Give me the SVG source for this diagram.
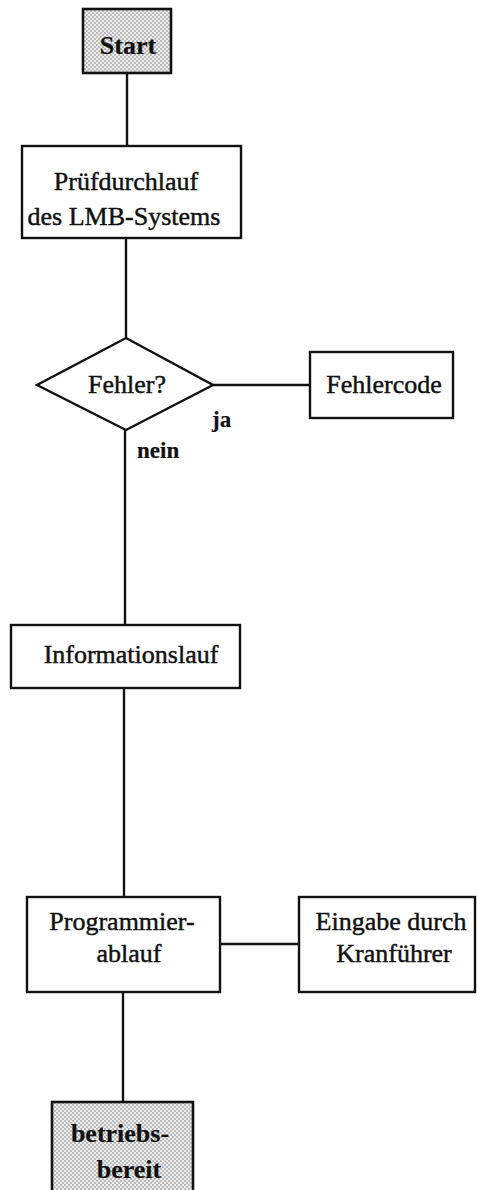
<svg xmlns="http://www.w3.org/2000/svg" width="477" height="1190" viewBox="0 0 477 1190">
  <defs>
    <!-- fine dot screen used for the start/end terminals -->
    <pattern id="dots" width="4" height="4" patternUnits="userSpaceOnUse">
      <rect width="4" height="4" fill="#ececec"/>
      <circle cx="1" cy="1" r="0.7" fill="#666"/>
      <circle cx="3" cy="3" r="0.7" fill="#666"/>
    </pattern>
    <style>
      .box { fill: #fff; stroke: #111; stroke-width: 2.4; }
      .term { fill: url(#dots); stroke: #111; stroke-width: 2.6; }
      .edge { fill: none; stroke: #111; stroke-width: 2.4; }
      text { font-family: "Liberation Serif", "Times New Roman", serif; font-size: 26px; fill: #111; stroke: #111; stroke-width: 0.45; text-anchor: middle; }
      .bold { font-weight: bold; stroke-width: 0.2; }
      .lbl { font-weight: bold; font-size: 23px; stroke-width: 0.2; text-anchor: start; }
    </style>
  </defs>

  <rect width="477" height="1190" fill="#fff"/>

  <g id="connectors">
    <line class="edge" x1="127" y1="73" x2="127" y2="146"/>
    <line class="edge" x1="126" y1="238" x2="126" y2="338"/>
    <line class="edge" x1="213" y1="385" x2="310" y2="385"/>
    <line class="edge" x1="125" y1="430" x2="125" y2="625"/>
    <line class="edge" x1="124" y1="688" x2="124" y2="897"/>
    <line class="edge" x1="220" y1="944" x2="299" y2="944"/>
    <line class="edge" x1="123" y1="992" x2="123" y2="1102"/>
    <text class="lbl" x="212" y="427">ja</text>
    <text class="lbl" x="137" y="458">nein</text>
  </g>

  <g id="start">
    <rect class="term" x="83" y="9" width="88" height="64"/>
    <text class="bold" x="128" y="54" font-size="23">Start</text>
  </g>

  <g id="pruefdurchlauf">
    <rect class="box" x="22" y="146" width="219" height="92"/>
    <text x="126" y="190">Prüfdurchlauf</text>
    <text x="124" y="225">des LMB-Systems</text>
  </g>

  <g id="fehler">
    <polygon class="box" points="126,338 213,385 126,430 37,385"/>
    <text x="127" y="393">Fehler?</text>
  </g>

  <g id="fehlercode">
    <rect class="box" x="310" y="352" width="143" height="66"/>
    <text x="384" y="393">Fehlercode</text>
  </g>

  <g id="informationslauf">
    <rect class="box" x="11" y="625" width="229" height="63"/>
    <text x="131" y="663">Informationslauf</text>
  </g>

  <g id="programmierablauf">
    <rect class="box" x="27" y="897" width="193" height="95"/>
    <text x="122" y="930">Programmier-</text>
    <text x="129" y="962">ablauf</text>
  </g>

  <g id="eingabe">
    <rect class="box" x="299" y="897" width="176" height="95"/>
    <text x="391" y="930">Eingabe  durch</text>
    <text x="394" y="962">Kranführer</text>
  </g>

  <g id="betriebsbereit">
    <rect class="term" x="52" y="1102" width="141" height="100"/>
    <text class="bold" x="120" y="1142" font-size="25">betriebs-</text>
    <text class="bold" x="129" y="1178" font-size="25">bereit</text>
  </g>
</svg>
